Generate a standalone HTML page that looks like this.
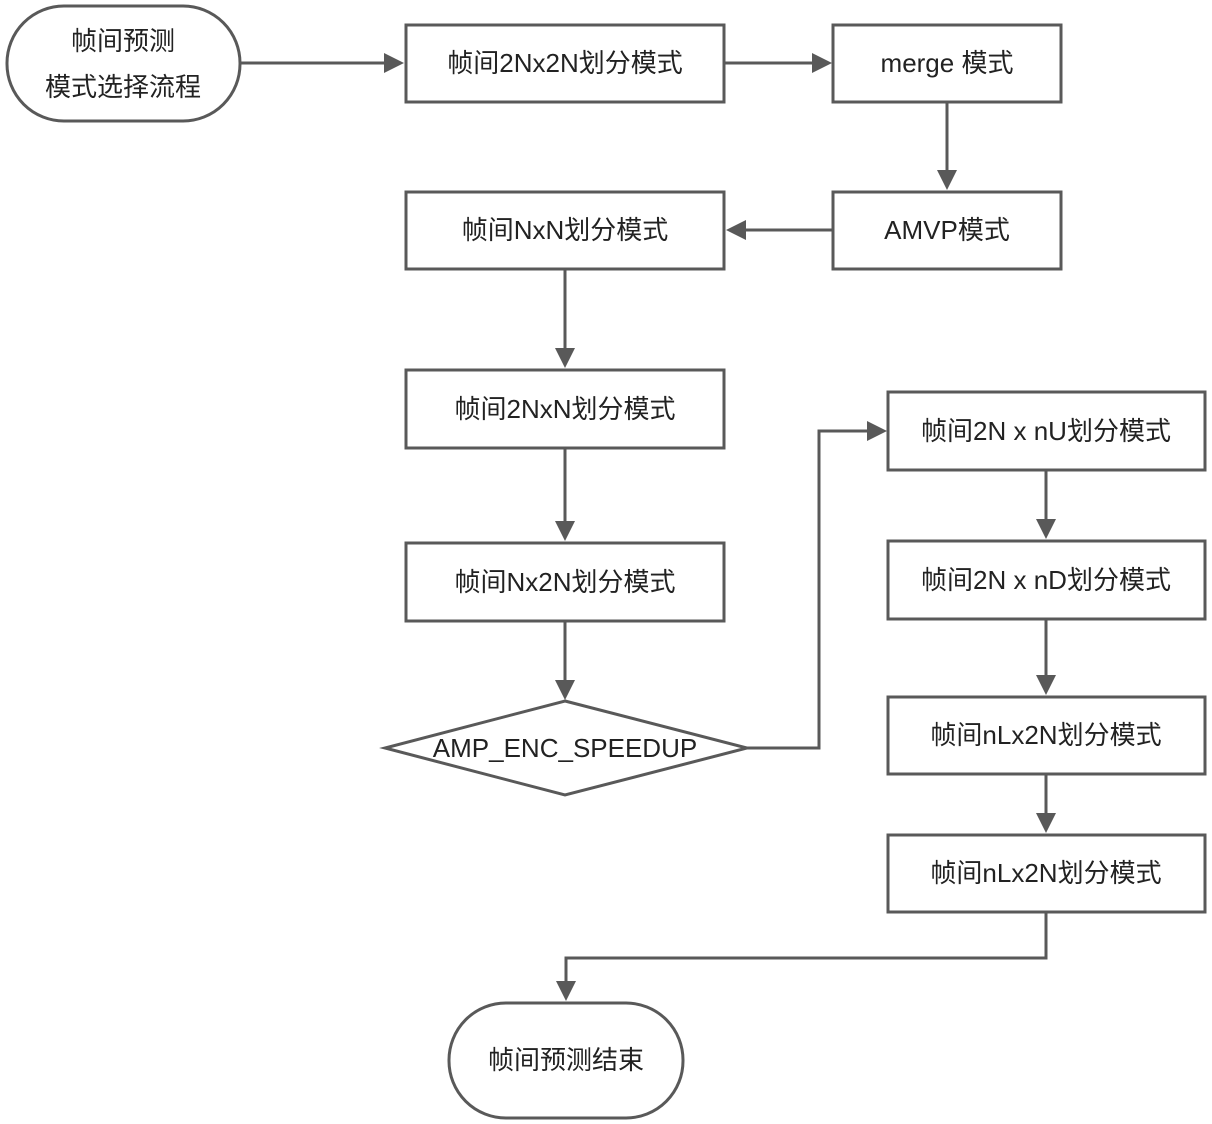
<!DOCTYPE html>
<html><head><meta charset="utf-8"><style>
html,body{margin:0;padding:0;background:#fff;}
svg{display:block;}
text{font-family:"Liberation Sans","Noto Sans CJK SC",sans-serif;font-size:26px;fill:#222;text-anchor:middle;dominant-baseline:central;}
.s{fill:#fff;stroke:#595959;stroke-width:3;}
.l{fill:none;stroke:#595959;stroke-width:3;}
.a{fill:#595959;}
</style></head><body>
<svg width="1212" height="1124" viewBox="0 0 1212 1124">
<rect class="s" x="7" y="6" width="233" height="115" rx="57"/>
<text x="123" y="41">帧间预测</text>
<text x="123" y="87">模式选择流程</text>

<rect class="s" x="406" y="25" width="318" height="77"/>
<text x="565" y="63">帧间2Nx2N划分模式</text>
<rect class="s" x="833" y="25" width="228" height="77"/>
<text x="947" y="63">merge 模式</text>
<rect class="s" x="833" y="192" width="228" height="77"/>
<text x="947" y="230">AMVP模式</text>
<rect class="s" x="406" y="192" width="318" height="77"/>
<text x="565" y="230">帧间NxN划分模式</text>
<rect class="s" x="406" y="370" width="318" height="78"/>
<text x="565" y="409">帧间2NxN划分模式</text>
<rect class="s" x="406" y="543" width="318" height="78"/>
<text x="565" y="582">帧间Nx2N划分模式</text>
<polygon class="s" points="565,701 747,748 565,795 385,748"/>
<text x="565" y="748">AMP_ENC_SPEEDUP</text>

<rect class="s" x="888" y="392" width="317" height="78"/>
<text x="1046" y="431">帧间2N x nU划分模式</text>
<rect class="s" x="888" y="541" width="317" height="78"/>
<text x="1046" y="580">帧间2N x nD划分模式</text>
<rect class="s" x="888" y="697" width="317" height="77"/>
<text x="1046" y="735">帧间nLx2N划分模式</text>
<rect class="s" x="888" y="835" width="317" height="77"/>
<text x="1046" y="873">帧间nLx2N划分模式</text>

<rect class="s" x="449" y="1003" width="234" height="115" rx="57"/>
<text x="566" y="1060">帧间预测结束</text>

<!-- connectors -->
<path class="l" d="M240,63 H386"/><polygon class="a" points="404,63 384,53 384,73"/>
<path class="l" d="M724,63 H814"/><polygon class="a" points="832,63 812,53 812,73"/>
<path class="l" d="M947,102 V170"/><polygon class="a" points="947,190 937,170 957,170"/>
<path class="l" d="M833,230 H745"/><polygon class="a" points="726,230 746,220 746,240"/>
<path class="l" d="M565,269 V348"/><polygon class="a" points="565,368 555,348 575,348"/>
<path class="l" d="M565,448 V521"/><polygon class="a" points="565,541 555,521 575,521"/>
<path class="l" d="M565,621 V680"/><polygon class="a" points="565,700 555,680 575,680"/>
<path class="l" d="M747,748 H819 V431 H868"/><polygon class="a" points="887,431 867,421 867,441"/>
<path class="l" d="M1046,470 V519"/><polygon class="a" points="1046,539 1036,519 1056,519"/>
<path class="l" d="M1046,619 V675"/><polygon class="a" points="1046,695 1036,675 1056,675"/>
<path class="l" d="M1046,774 V813"/><polygon class="a" points="1046,833 1036,813 1056,813"/>
<path class="l" d="M1046,912 V958 H566 V981"/><polygon class="a" points="566,1001 556,981 576,981"/>
</svg>
</body></html>
